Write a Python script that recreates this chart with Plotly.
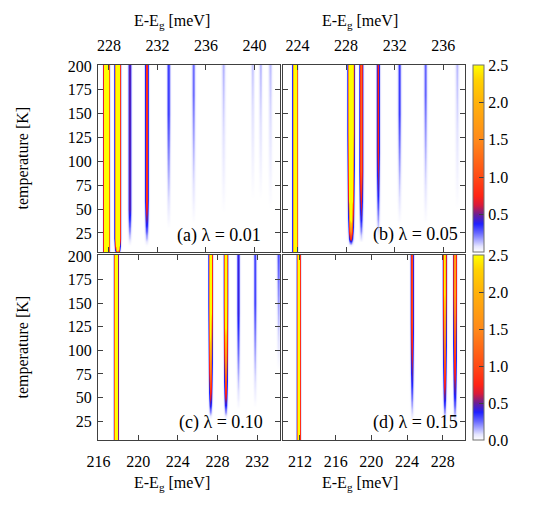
import numpy as np
import plotly.graph_objects as go

W, H = 545, 522
FONT = "Liberation Serif, Times New Roman, serif"

# temperature grid [K]
temps = np.arange(5, 200.1, 2.5)

# line table per panel: centre [meV], peak value, width [meV], T where it vanishes, T where it is full
a_center = [227.8, 228.72, 229.72, 231.12, 232.92, 234.98, 237.45, 239.85, 240.5, 241.3]
a_peak = [15, 12, 0.55, 0.95, 0.33, 0.26, 0.15, 0.12, 0.14, 0.13]
a_sigma = [0.1, 0.1, 0.085, 0.09, 0.09, 0.09, 0.1, 0.09, 0.09, 0.1]
a_t_on = [0, 4, 12, 12, 30, 35, 45, 60, 60, 50]
a_t_full = [1, 20, 50, 60, 150, 170, 200, 200, 200, 200]

b_center = [223.8, 228.4, 229.25, 230.65, 232.4, 234.55, 237.15]
b_peak = [8, 12, 1.2, 0.75, 0.33, 0.27, 0.14]
b_sigma = [0.09, 0.11, 0.09, 0.085, 0.09, 0.09, 0.1]
b_t_on = [0, 12, 15, 18, 35, 35, 50]
b_t_full = [1, 130, 90, 110, 150, 170, 200]

c_center = [217.78, 227.3, 228.85, 230.1, 231.8, 234.15]
c_peak = [6, 3.6, 3.6, 0.42, 0.32, 0.3]
c_sigma = [0.1, 0.1, 0.1, 0.1, 0.1, 0.11]
c_t_on = [0, 28, 28, 38, 40, 80]
c_t_full = [1, 150, 150, 140, 150, 200]

d_center = [211.86, 224.58, 228.24, 229.37]
d_peak = [5, 1.0, 2.6, 2.0]
d_sigma = [0.1, 0.11, 0.11, 0.11]
d_t_on = [0, 25, 25, 22]
d_t_full = [1, 130, 160, 160]

a_range = [227.1, 242.1]
b_range = [222.8, 237.8]
c_range = [215.95, 234.3]
d_range = [210.1, 230.5]

a_ticks = [228, 232, 236, 240]
b_ticks = [224, 228, 232, 236]
c_ticks = [216, 220, 224, 228, 232]
d_ticks = [212, 216, 220, 224, 228]
t_ticks = [25, 50, 75, 100, 125, 150, 175, 200]
cb_ticks = [0.0, 0.5, 1.0, 1.5, 2.0, 2.5]

labels = ["(a) λ = 0.01", "(b) λ = 0.05", "(c) λ = 0.10", "(d) λ = 0.15"]


def spectrum(erange, centers, peaks, sigmas, t_on, t_full):
    e = np.arange(erange[0] - 0.05, erange[1] + 0.05, 0.025)
    z = np.zeros((len(temps), len(e)))
    for c, p, s, t0, t1 in zip(centers, peaks, sigmas, t_on, t_full):
        amp = p * np.clip((temps - t0) / (t1 - t0), 0, 1)
        z += amp[:, None] * np.exp(-0.5 * ((e[None, :] - c) / s) ** 2)
    return e, np.round(z, 3)


scale = [[0.0, "#ffffff"], [0.03, "#e4e4ff"], [0.1, "#6a6aff"], [0.15, "#2020ff"],
         [0.2, "#6a1f95"], [0.25, "#d81a3a"], [0.3, "#ff2415"], [0.4, "#ff4a15"],
         [0.6, "#ff8a1a"], [0.8, "#ffb20a"], [0.92, "#ffd200"], [1.0, "#ffff00"]]

panels = [
    (a_range, a_center, a_peak, a_sigma, a_t_on, a_t_full, "coloraxis"),
    (b_range, b_center, b_peak, b_sigma, b_t_on, b_t_full, "coloraxis"),
    (c_range, c_center, c_peak, c_sigma, c_t_on, c_t_full, "coloraxis2"),
    (d_range, d_center, d_peak, d_sigma, d_t_on, d_t_full, "coloraxis2"),
]

fig = go.Figure()
for i, (rng, cen, pk, sg, t0, t1, cax) in enumerate(panels):
    e, z = spectrum(rng, cen, pk, sg, t0, t1)
    sfx = "" if i == 0 else str(i + 1)
    fig.add_trace(go.Heatmap(x=e, y=temps, z=z, coloraxis=cax, zsmooth="best",
                             xaxis="x" + sfx, yaxis="y" + sfx, hoverinfo="skip"))

# pixel frames of the panels
col_x = [(98, 280), (283, 465)]
row_y = [(65, 252), (255, 440)]


def px_dom(a, b, total, flip=False):
    if flip:
        return [1 - b / total, 1 - a / total]
    return [a / total, b / total]


axis_style = dict(showline=True, linecolor="#404040", linewidth=1, mirror="ticks",
                  ticks="inside", ticklen=5, tickcolor="#404040", showgrid=False,
                  zeroline=False, automargin=False,
                  tickfont=dict(family=FONT, size=16, color="black"))

ranges = [a_range, b_range, c_range, d_range]
xticks = [a_ticks, b_ticks, c_ticks, d_ticks]
layout = {}
for i in range(4):
    r, c = divmod(i, 2)
    sfx = "" if i == 0 else str(i + 1)
    layout["xaxis" + sfx] = dict(axis_style, domain=px_dom(*col_x[c], W), anchor="y" + sfx,
                                 range=ranges[i], tickvals=xticks[i], ticklabelstandoff=7,
                                 side="top" if r == 0 else "bottom")
    layout["yaxis" + sfx] = dict(axis_style, domain=px_dom(*row_y[r], H, flip=True),
                                 anchor="x" + sfx, range=[5, 201], tickvals=t_ticks,
                                 ticklabelstandoff=2, showticklabels=(c == 0))


def cbar(r, vals):
    y0, y1 = row_y[r]
    return dict(x=473 / W, xanchor="left", xpad=0, thickness=11,
                len=(y1 - y0) / H, lenmode="fraction", y=1 - (y0 + y1) / 2 / H,
                yanchor="middle", ypad=0, outlinecolor="#707070", outlinewidth=1,
                tickvals=vals, ticktext=["%.1f" % v for v in vals], ticks="inside",
                ticklen=5, tickcolor="#404040",
                tickfont=dict(family=FONT, size=16, color="black"))


annotations = []
lab_pos = [(0.905, 0.086), (0.973, 0.096), (0.917, 0.097), (0.973, 0.097)]
for i, txt in enumerate(labels):
    sfx = "" if i == 0 else str(i + 1)
    annotations.append(dict(text=txt, xref="x" + sfx + " domain", yref="y" + sfx + " domain",
                            x=lab_pos[i][0], y=lab_pos[i][1], xanchor="right",
                            yanchor="middle", showarrow=False,
                            font=dict(family=FONT, size=18, color="black")))

title_font = dict(family=FONT, size=16, color="black")
for xc in (172, 360):
    annotations.append(dict(text="E-E<sub>g</sub> [meV]", xref="paper", yref="paper",
                            x=xc / W, y=1 - 21 / H, xanchor="center", yanchor="middle",
                            showarrow=False, font=title_font))
    annotations.append(dict(text="E-E<sub>g</sub> [meV]", xref="paper", yref="paper",
                            x=xc / W, y=1 - 483 / H, xanchor="center", yanchor="middle",
                            showarrow=False, font=title_font))
for y0, y1 in row_y:
    annotations.append(dict(text="temperature [K]", xref="paper", yref="paper",
                            x=22 / W, y=1 - (y0 + y1) / 2 / H, textangle=-90,
                            xanchor="center", yanchor="middle",
                            showarrow=False, font=title_font))

fig.update_layout(
    width=W, height=H, margin=dict(l=0, r=0, t=0, b=0, autoexpand=False),
    paper_bgcolor="white", plot_bgcolor="white",
    font=dict(family=FONT, size=16, color="black"),
    coloraxis=dict(colorscale=scale, cmin=0, cmax=2.5, colorbar=cbar(0, cb_ticks[1:])),
    coloraxis2=dict(colorscale=scale, cmin=0, cmax=2.5, colorbar=cbar(1, cb_ticks)),
    annotations=annotations, showlegend=False,
    **layout,
)

# page body margin would shift the 545x522 figure inside the window
fig.write_html("out.html", config={"displayModeBar": False},
               post_script="document.body.style.margin='0px';")
